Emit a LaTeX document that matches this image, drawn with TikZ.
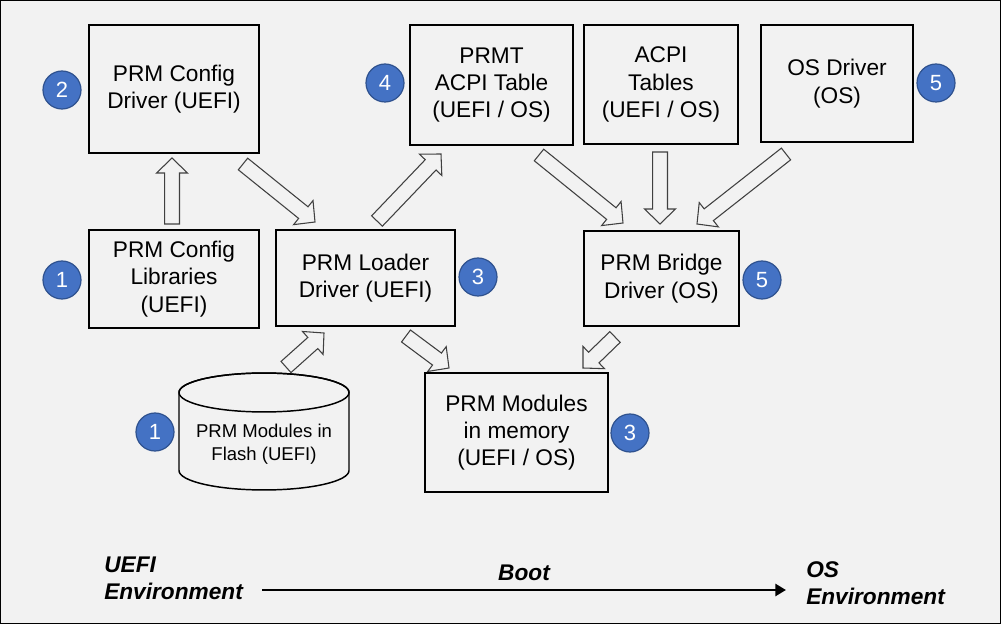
\documentclass[tikz,border=0pt]{standalone}
\usepackage{fontspec}
\setmainfont{Liberation Sans}
\usetikzlibrary{calc,arrows.meta}
\definecolor{bgc}{HTML}{F2F2F2}
\definecolor{numfill}{HTML}{4472C4}
\definecolor{numdraw}{HTML}{2F528F}
\definecolor{arrdraw}{HTML}{404040}
\tikzset{
  box/.style={draw=black, line width=1.1pt, fill=bgc, align=center, inner sep=0pt,
    font=\fontsize{17}{20.5}\selectfont},
  num/.style={circle, fill=numfill, draw=numdraw, line width=0.9pt, minimum size=28.5pt,
    inner sep=0pt, text=white, font=\fontsize{16.5}{18}\selectfont},
  barrowstyle/.style={draw=arrdraw, fill=bgc, line width=0.8pt, line join=miter},
  envtext/.style={align=left, anchor=west, inner sep=0pt,
    font=\fontsize{17}{20.5}\selectfont\bfseries\itshape},
}
\newcommand\blockarr[2]{%
  \path ($(#2)!11.25pt!(#1)$) coordinate (hh);
  \draw[barrowstyle] ($(#1)!5.6pt!90:(#2)$) -- ($(hh)!5.6pt!90:(#2)$) -- ($(hh)!11.6pt!90:(#2)$)
    -- (#2) -- ($(hh)!11.6pt!-90:(#2)$) -- ($(hh)!5.6pt!-90:(#2)$) -- ($(#1)!5.6pt!-90:(#2)$) -- cycle;}
\begin{document}
\begin{tikzpicture}[x=0.75pt,y=-0.75pt]
\useasboundingbox (0,0) rectangle (1001,624);
\fill[bgc] (0,0) rectangle (1001,624);
\draw[black, line width=1.1pt] (0.75,0.75) rectangle (1000.25,623.25);

% boxes
\node[box, minimum width=127.5pt, minimum height=96pt] (cfgdrv) at (174,89) {PRM Config\\Driver (UEFI)};
\node[box, minimum width=127.5pt, minimum height=73.5pt] (cfglib) at (174,279) {PRM Config\\Libraries\\(UEFI)};
\node[box, minimum width=134.25pt, minimum height=72pt] (loader) at (365.5,278) {PRM Loader\\Driver (UEFI)};
\node[box, minimum width=122.25pt, minimum height=90pt] (prmt) at (491.5,85) {PRMT\\ACPI Table\\(UEFI / OS)};
\node[box, minimum width=115.5pt, minimum height=89.25pt] (acpi) at (661,84.5) {ACPI\\Tables\\(UEFI / OS)};
\node[box, minimum width=114pt, minimum height=87.75pt] (osdrv) at (837,83.5) {OS Driver\\(OS)};
\node[box, minimum width=116.25pt, minimum height=71.25pt] (bridge) at (661.5,278.5) {PRM Bridge\\Driver (OS)};
\node[box, minimum width=137.25pt, minimum height=89.25pt] (mods) at (516.5,432.5) {PRM Modules\\in memory\\(UEFI / OS)};

% cylinder
\draw[black, line width=1.1pt, fill=bgc] (179,392.5) -- (179,470.5)
  arc[start angle=180, end angle=360, x radius=63.75pt, y radius=14.6pt] -- (349,392.5)
  arc[start angle=0, end angle=180, x radius=63.75pt, y radius=14.6pt];
\draw[black, line width=1.1pt] (264,392.5) ellipse[x radius=63.75pt, y radius=14.6pt];
\node[align=center, inner sep=0pt, font=\fontsize{13.9}{17.25}\selectfont] (flash) at (264,444) {PRM Modules in\\Flash (UEFI)};

% numbers
\node[num] (n2a) at (62,90) {2};
\node[num] (n1a) at (62,280) {1};
\node[num] (n4) at (385,83) {4};
\node[num] (n3a) at (478,277) {3};
\node[num] (n5a) at (936,83) {5};
\node[num] (n5b) at (762,280) {5};
\node[num] (n1b) at (155,432) {1};
\node[num] (n3b) at (630,433) {3};

% block arrow end points
\coordinate (a1s) at (172,224); \coordinate (a1e) at (172,158);
\coordinate (a2s) at (243,164); \coordinate (a2e) at (315,222);
\coordinate (a3s) at (377,221); \coordinate (a3e) at (441,154);
\coordinate (a4s) at (539,155); \coordinate (a4e) at (623,223);
\coordinate (a5s) at (660,152); \coordinate (a5e) at (660,224);
\coordinate (a6s) at (786,154); \coordinate (a6e) at (697,224);
\coordinate (a7s) at (286,367); \coordinate (a7e) at (324,333);
\coordinate (a8s) at (406,336); \coordinate (a8e) at (449,368);
\coordinate (a9s) at (615,337); \coordinate (a9e) at (583,368);
\blockarr{a1s}{a1e}
\blockarr{a2s}{a2e}
\blockarr{a3s}{a3e}
\blockarr{a4s}{a4e}
\blockarr{a5s}{a5e}
\blockarr{a6s}{a6e}
\blockarr{a7s}{a7e}
\blockarr{a8s}{a8e}
\blockarr{a9s}{a9e}

% bottom
\node[envtext] (uefi) at (104,578.5) {UEFI\\Environment};
\node[envtext] (os) at (806,583) {OS\\Environment};
\node[inner sep=0pt, font=\fontsize{17}{20.5}\selectfont\bfseries\itshape] (boot) at (524,573) {Boot};
\coordinate (bs) at (262,590); \coordinate (be) at (786,590);
\draw[black, line width=2.2pt, -{Triangle[length=8pt,width=9pt]}] (bs) -- (be);
\end{tikzpicture}
\end{document}
